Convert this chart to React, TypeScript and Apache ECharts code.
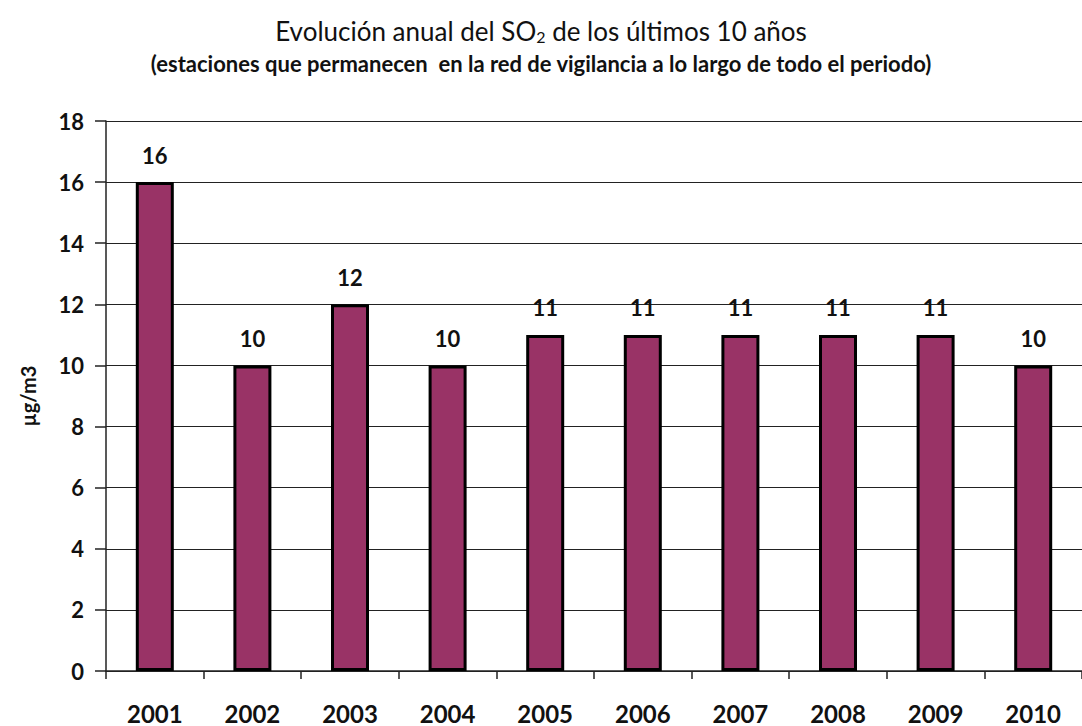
import React, { useEffect, useRef } from "react";
import * as echarts from "echarts";

const years = ["2001", "2002", "2003", "2004", "2005", "2006", "2007", "2008", "2009", "2010"];
const so2Values = [16, 10, 12, 10, 11, 11, 11, 11, 11, 10];
const titleText = "Evolución anual del SO{sub|2} de los últimos 10 años";
const subtitleText = "(estaciones que permanecen  en la red de vigilancia a lo largo de todo el periodo)";
const yAxisName = "µg/m3";

const FONT = "Lato, 'Open Sans', sans-serif";

export default function App() {
  const ref = useRef<HTMLDivElement>(null);
  useEffect(() => {
    if (!ref.current) return;
    const chart = echarts.init(ref.current, undefined, { renderer: "svg" });
    chart.setOption({
      animation: false,
      backgroundColor: "#ffffff",
      textStyle: { fontFamily: FONT },
      title: [
        {
          text: titleText,
          left: "center",
          top: 12,
          textStyle: {
            fontFamily: FONT,
            fontSize: 26,
            fontWeight: "normal",
            color: "#111",
            rich: {
              sub: { fontFamily: FONT, fontSize: 16, verticalAlign: "bottom", padding: [11, 0, 0, 0], color: "#111" },
            },
          },
        },
        {
          text: subtitleText,
          left: "center",
          top: 47,
          textStyle: { fontFamily: FONT, fontSize: 22, fontWeight: "bold", color: "#111" },
        },
      ],
      grid: { left: 106, top: 121, width: 982, height: 550, containLabel: false },
      xAxis: {
        type: "category",
        data: years,
        axisLine: { show: true, lineStyle: { color: "#222", width: 1.5 } },
        axisTick: { show: true, length: 8, inside: false, lineStyle: { color: "#222", width: 1.5 } },
        axisLabel: { fontFamily: FONT, fontSize: 24, fontWeight: "bold", color: "#111", margin: 30 },
      },
      yAxis: {
        type: "value",
        min: 0,
        max: 18,
        interval: 2,
        name: yAxisName,
        nameLocation: "middle",
        nameGap: 68,
        nameRotate: 90,
        nameTextStyle: { fontFamily: FONT, fontSize: 20, fontWeight: "bold", color: "#111" },
        axisLine: { show: true, lineStyle: { color: "#222", width: 1.5 } },
        axisTick: { show: true, length: 11, lineStyle: { color: "#222", width: 1.5 } },
        axisLabel: { fontFamily: FONT, fontSize: 22, fontWeight: "bold", color: "#111", margin: 22 },
        splitLine: { show: true, lineStyle: { color: "#222", width: 1.2 } },
      },
      series: [
        {
          type: "bar",
          data: so2Values,
          barWidth: 38,
          itemStyle: { color: "#993366", borderColor: "#000", borderWidth: 3 },
          label: {
            show: true,
            position: "top",
            distance: 16,
            fontFamily: FONT,
            fontSize: 22,
            fontWeight: "bold",
            color: "#111",
          },
        },
      ],
    });
    return () => chart.dispose();
  }, []);
  return (
    <div
      ref={ref}
      style={{ position: "fixed", left: 0, top: 0, width: 1082, height: 726, background: "#fff" }}
    />
  );
}
